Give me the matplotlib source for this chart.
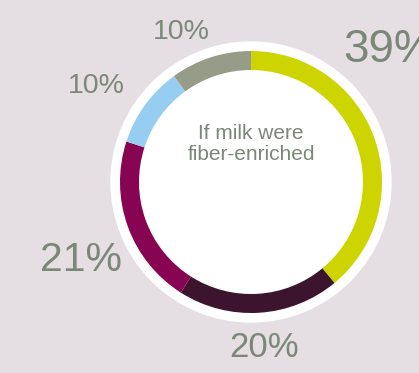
import matplotlib.pyplot as plt
from matplotlib.patches import Circle

# Share of respondents, clockwise from the top
shares = [39, 20, 21, 10, 10]
colors = ["#cdd400", "#3d142e", "#870452", "#96cdf0", "#979c89"]
labels = ["39%", "20%", "21%", "10%", "10%"]
center_lines = ["If milk were", "fiber-enriched"]

W, H = 419, 373
cx, cy = 251, H - 182

fig = plt.figure(figsize=(W / 100, H / 100), dpi=100)
fig.patch.set_facecolor("#e5dfe3")
ax = fig.add_axes([0, 0, 1, 1])
ax.axis("off")

# white disc behind the ring
ax.add_patch(Circle((cx, cy), 140, color="white", zorder=1))

wedges, _ = ax.pie(shares, colors=colors, radius=131, center=(cx, cy),
                   startangle=90, counterclock=False,
                   wedgeprops=dict(width=19, linewidth=0))
for w in wedges:
    w.set_zorder(2)
ax.set_xlim(0, W)
ax.set_ylim(0, H)
ax.set_aspect("auto")

label_color = "#7b8778"
font = "Liberation Sans"
# (x, baseline y from top, size) for each label
label_pos = [(343, 62, 33), (229, 357, 25), (40, 271, 29.5), (68, 93, 20.5), (153, 39, 20.5)]
for text, (x, y, size) in zip(labels, label_pos):
    ax.text(x, H - y, text, fontsize=size, color=label_color, family=font,
            ha="left", va="baseline", zorder=3)

for line, y in zip(center_lines, [139, 160]):
    ax.text(cx, H - y, line, fontsize=15, color=label_color, family=font,
            ha="center", va="baseline", zorder=3)

fig.savefig("out.png", dpi=100, facecolor=fig.get_facecolor())
